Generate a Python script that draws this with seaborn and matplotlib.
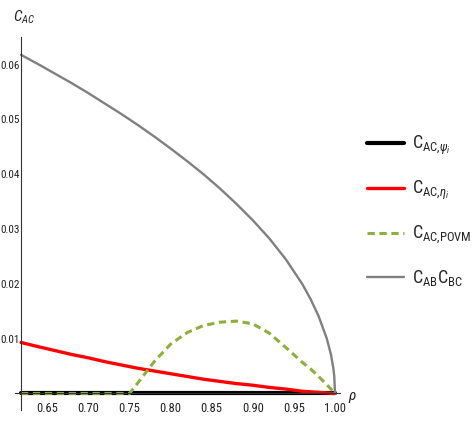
import numpy as np
import pandas as pd
import matplotlib
matplotlib.use("Agg")
import matplotlib.pyplot as plt
import seaborn as sns

# values
p = [0.618, 0.64, 0.66, 0.68, 0.70, 0.72, 0.74, 0.75, 0.76, 0.78, 0.80, 0.82,
     0.84, 0.86, 0.88, 0.90, 0.92, 0.94, 0.96, 0.97, 0.98, 0.99, 0.995, 0.998, 0.999, 1.0]
c_psi = [0.0] * len(p)
c_eta = [0.0093, 0.0085, 0.0078, 0.0071, 0.0065, 0.0058, 0.0052, 0.0049, 0.0046, 0.0041,
         0.0036, 0.0031, 0.0026, 0.0022, 0.0018, 0.0015, 0.0011, 0.0008, 0.0004, 0.0003,
         0.0002, 0.0001, 0.00003, 0.0, 0.0, 0.0]
c_povm = [0.0, 0.0, 0.0, 0.0, 0.0, 0.0, 0.0, 0.0, 0.0019, 0.0058, 0.0090, 0.0111,
          0.0124, 0.0130, 0.0132, 0.0127, 0.0110, 0.0084, 0.0057, 0.0045, 0.0031, 0.0016,
          0.0008, 0.0003, 0.00015, 0.0]
c_prod = [0.0618, 0.0600, 0.0583, 0.0566, 0.0548, 0.0529, 0.0510, 0.0500, 0.0490, 0.0469,
          0.0447, 0.0424, 0.0400, 0.0374, 0.0346, 0.0316, 0.0283, 0.0245, 0.0200, 0.0173,
          0.0141, 0.0100, 0.0071, 0.0045, 0.0032, 0.0]

labels = [r"$\mathrm{C}_{\mathrm{AC{,}}\psi_i}$", r"$\mathrm{C}_{\mathrm{AC{,}}\eta_i}$",
          r"$\mathrm{C}_{\mathrm{AC{,}POVM}}$", r"$\mathrm{C}_{\mathrm{AB}}\mathrm{C}_{\mathrm{BC}}$"]
x_ticks = [0.65, 0.70, 0.75, 0.80, 0.85, 0.90, 0.95, 1.00]
y_ticks = [0.01, 0.02, 0.03, 0.04, 0.05, 0.06]

sns.set_style("white")
plt.rcParams["font.family"] = ["Roboto Condensed", "DejaVu Sans"]
plt.rcParams["mathtext.fontset"] = "custom"
plt.rcParams["mathtext.rm"] = "Roboto Condensed"
plt.rcParams["mathtext.it"] = "Roboto Condensed:italic"

df = pd.DataFrame({"p": p, "psi": c_psi, "eta": c_eta, "povm": c_povm, "prod": c_prod})

fig = plt.figure(figsize=(4.73, 4.23), dpi=100)
ax = fig.add_axes([0.0322, 0.0310, 0.6918, 0.8809])

sns.lineplot(data=df, x="p", y="psi", ax=ax, color="black", linewidth=3.0, label=labels[0])
sns.lineplot(data=df, x="p", y="eta", ax=ax, color="#ff0000", linewidth=2.4, label=labels[1])
sns.lineplot(data=df, x="p", y="povm", ax=ax, color="#8db03a", linewidth=2.2,
             linestyle=(0, (2.4, 1.5)), label=labels[2])
sns.lineplot(data=df, x="p", y="prod", ax=ax, color="#808080", linewidth=1.7, label=labels[3])
for ln in ax.lines:
    ln.set_clip_on(False)

ax.set_xlim(0.611, 1.009)
ax.set_ylim(-0.0030, 0.0650)
ax.spines["top"].set_visible(False)
ax.spines["right"].set_visible(False)
ax.spines["left"].set_position(("data", 0.618))
ax.spines["bottom"].set_position(("data", 0.0))
ax.spines["left"].set_bounds(-0.0030, 0.0650)
ax.spines["bottom"].set_bounds(0.6105, 1.0055)
for s in ["left", "bottom"]:
    ax.spines[s].set_color("#333333")
    ax.spines[s].set_linewidth(0.8)

ax.set_xticks(x_ticks)
ax.set_xticklabels([f"{v:.2f}" for v in x_ticks])
ax.set_yticks(y_ticks)
ax.set_yticklabels([f"{v:.2f}" for v in y_ticks])
ax.set_xticks(np.arange(0.62, 1.001, 0.01), minor=True)
ax.set_yticks(np.arange(0.002, 0.0645, 0.002), minor=True)
ax.tick_params(axis="both", which="both", direction="in", color="#333333",
               labelcolor="#222222")
ax.tick_params(axis="both", which="major", length=4.3, width=0.7)
ax.tick_params(axis="both", which="minor", length=2.5, width=0.6)
ax.tick_params(axis="x", pad=6, labelsize=9)
ax.tick_params(axis="y", pad=0.8, labelsize=8)
ax.set_xlabel("")
ax.set_ylabel("")

fig.text(13 / 473, 1 - 22 / 423, r"$C_{AC}$", fontsize=11, color="#222222")
fig.text(348 / 473, 1 - 400 / 423, r"$\rho$", fontsize=11, color="#222222")

handles, labs = ax.get_legend_handles_labels()
ax.get_legend().remove()
fig.legend(handles, labs, loc="center left", bbox_to_anchor=(367 / 473, 1 - 211 / 423),
           frameon=False, fontsize=13, handlelength=2.05, handletextpad=0.45,
           labelspacing=1.2, borderpad=0, borderaxespad=0)

fig.savefig("out.png", dpi=100)
